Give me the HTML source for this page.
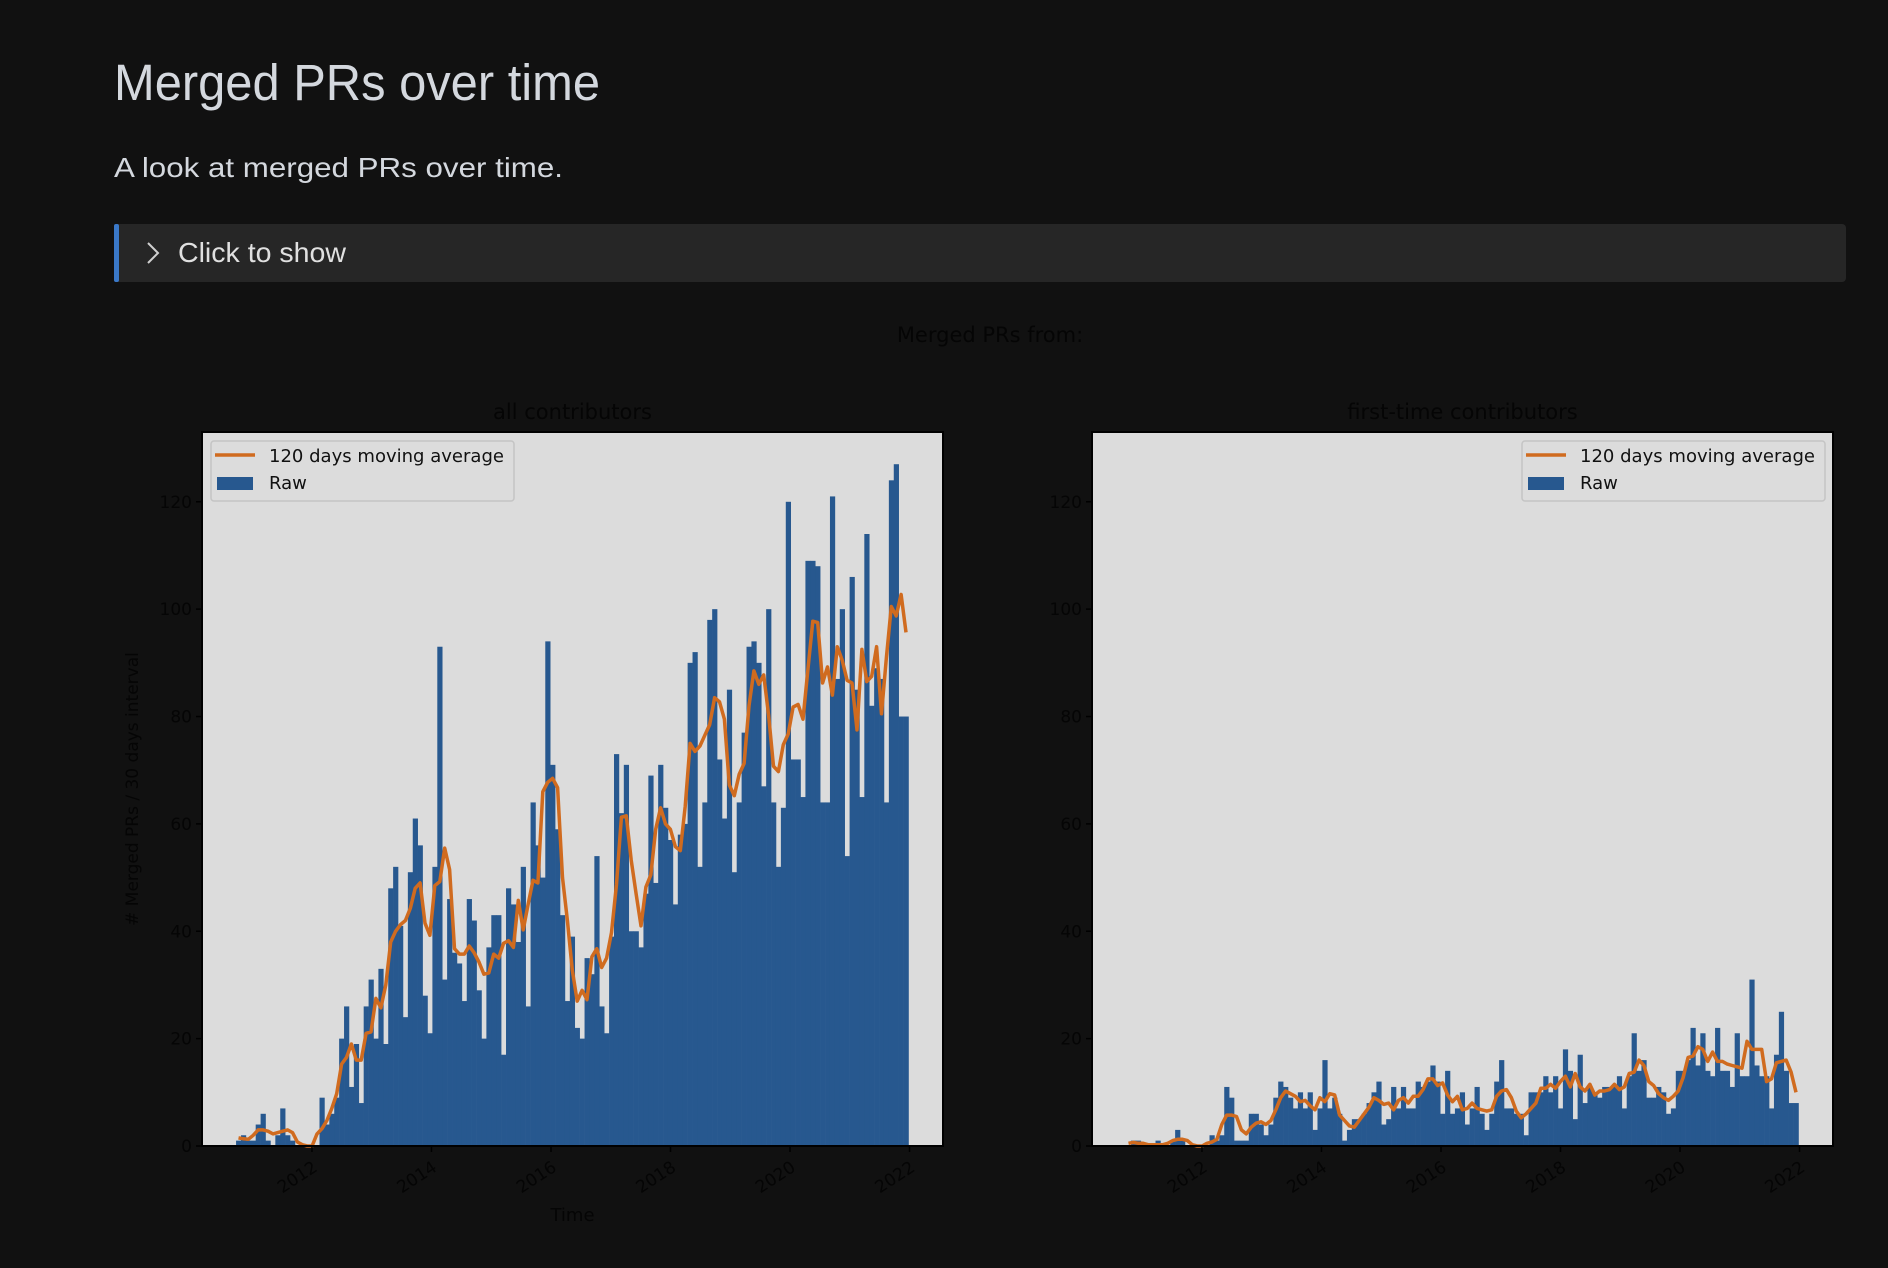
<!DOCTYPE html>
<html><head><meta charset="utf-8"><style>
html,body{margin:0;padding:0;background:#111111;}
svg{display:block;}
</style></head><body>
<svg id="root" width="1888" height="1268" viewBox="0 0 1888 1268" xmlns="http://www.w3.org/2000/svg">
<rect x="0" y="0" width="1888" height="1268" fill="#111111"/>
<text x="114" y="100" font-family="Liberation Sans, sans-serif" font-size="51" fill="#d4d8de" textLength="486" lengthAdjust="spacingAndGlyphs">Merged PRs over time</text>
<text x="114" y="177" font-family="Liberation Sans, sans-serif" font-size="28" fill="#d4d8de" textLength="449" lengthAdjust="spacingAndGlyphs">A look at merged PRs over time.</text>
<g>
<rect x="114" y="224" width="1732" height="58" rx="4" fill="#262626"/>
<rect x="114" y="224" width="5" height="58" rx="2" fill="#3a78c8"/>
<polyline points="148,243 158,253 148,263" fill="none" stroke="#d0d0d0" stroke-width="2"/>
<text x="178" y="262" font-family="Liberation Sans, sans-serif" font-size="28" fill="#e0e0e0" textLength="168" lengthAdjust="spacingAndGlyphs">Click to show</text>
</g>
<text x="990" y="342" text-anchor="middle" font-family="DejaVu Sans, sans-serif" font-size="21" fill="#050505">Merged PRs from:</text>
<g id="chartL"></g>
<g id="chartR"></g>
</svg>
<script>
const allRaw = [1,2,1,1,4,6,1,0,2,7,2,1,0,0,0,0,0,9,4,6,9,20,26,11,19,8,26,31,20,33,19,48,52,41,24,51,61,56,28,21,52,93,31,46,36,34,27,46,42,29,20,37,43,43,17,48,45,38,52,26,64,56,50,94,71,59,43,27,39,22,20,35,32,54,26,21,39,73,62,71,40,40,37,47,69,49,71,63,57,45,58,60,90,92,52,64,98,100,72,61,85,51,64,77,93,94,90,67,100,64,52,63,120,72,72,65,109,109,108,64,64,121,87,100,54,106,85,65,114,82,89,87,64,124,127,80,80];
const firstRaw = [0,1,1,0,0,0,1,0,0,1,3,1,0,0,0,0,0,2,1,2,11,9,1,1,1,6,6,4,2,4,9,12,11,9,7,10,7,10,3,7,16,7,9,6,1,3,5,5,6,8,10,12,4,5,11,7,11,7,7,12,11,12,15,12,6,14,6,7,10,4,7,11,6,3,6,12,16,7,7,6,6,2,10,10,10,13,10,13,7,18,14,5,17,8,11,10,9,11,11,11,13,7,13,21,14,16,9,9,11,10,6,7,14,14,16,22,15,21,14,13,22,14,14,11,21,13,13,31,15,13,13,7,17,25,14,8,8];
const yTicks = [0,20,40,60,80,100,120];
const xTicks = [2012,2014,2016,2018,2020,2022];
const startYear = 2010.73;
const stepYears = 30/365.25;

const NS = "http://www.w3.org/2000/svg";
function mk(tag, attrs, parent){const e=document.createElementNS(NS,tag);for(const k in attrs)e.setAttribute(k,attrs[k]);parent.appendChild(e);return e;}

function drawChart(gId, left, raw, title, legendRight, showYLabel, showXLabel){
  const g=document.getElementById(gId);
  const top=432,bottom=1146,width=741;
  const x0=2010.16,x1=2022.56,yMax=133;
  const xs=t=>left+(t-x0)/(x1-x0)*width;
  const ys=v=>bottom-v/yMax*(bottom-top);
  const bg=mk('rect',{x:left,y:top,width:width,height:bottom-top,fill:'#dcdcdc'},g);
  
  
  const t=mk('text',{x:left+width/2,y:419,'text-anchor':'middle','font-family':'DejaVu Sans, sans-serif','font-size':21,fill:'#050505'},g);
  t.textContent=title;
  
  
  raw.forEach((v,i)=>{
    const a=startYear+i*stepYears;
    const r=mk('rect',{x:xs(a),y:ys(v),width:xs(a+stepYears)-xs(a)+0.3,height:bottom-ys(v),fill:'#27588f'},g);
    
    
  });
  const pts=[];
  for(let i=0;i<raw.length;i++){
    let s=0,c=0;
    for(let j=i-2;j<=i+1;j++){if(j>=0&&j<raw.length){s+=raw[j];c++;}}
    pts.push(xs(startYear+(i+0.5)*stepYears).toFixed(1)+','+ys(s/c).toFixed(1));
  }
  const pl=mk('polyline',{points:pts.join(' '),fill:'none',stroke:'#d06b1f','stroke-width':3.5,'stroke-linejoin':'round'},g);
  
  
  const fr=mk('rect',{x:left,y:top,width:width,height:bottom-top,fill:'none',stroke:'#000','stroke-width':2},g);
  
  
  yTicks.forEach(v=>{
    const l=mk('line',{x1:left-6,x2:left,y1:ys(v),y2:ys(v),stroke:'#000','stroke-width':1.5},g);
    
    
    const tx=mk('text',{x:left-10,y:ys(v)+6,'text-anchor':'end','font-family':'DejaVu Sans, sans-serif','font-size':17,fill:'#050505'},g);
    tx.textContent=v;
    
    
  });
  xTicks.forEach(v=>{
    const X=xs(v);
    const l=mk('line',{x1:X,x2:X,y1:bottom,y2:bottom+6,stroke:'#000','stroke-width':1.5},g);
    
    
    const tx=mk('text',{x:X,y:bottom+26,'text-anchor':'end','font-family':'DejaVu Sans, sans-serif','font-size':17,fill:'#050505',transform:'rotate(-33 '+X+' '+(bottom+14)+')'},g);
    tx.textContent=v;
    
    
  });
  if(showYLabel){
    const yl=mk('text',{x:0,y:0,'text-anchor':'middle','font-family':'DejaVu Sans, sans-serif','font-size':17,fill:'#050505',transform:'translate(138,789) rotate(-90)'},g);
    yl.textContent='# Merged PRs / 30 days interval';
    
    
  }
  if(showXLabel){
    const xl=mk('text',{x:left+width/2,y:1221,'text-anchor':'middle','font-family':'DejaVu Sans, sans-serif','font-size':18,fill:'#050505'},g);
    xl.textContent='Time';
    
    
  }
  const lx=legendRight?left+width-311:left+9;
  const lg=mk('g',{},g);
  
  
  mk('rect',{x:lx,y:441,width:303,height:60,rx:3,fill:'#dcdcdc',stroke:'#c4c4c4','stroke-width':1.5},lg);
  const ll=mk('line',{x1:lx+4,x2:lx+44,y1:455,y2:455,stroke:'#d06b1f','stroke-width':3.5},lg);
  
  
  const lr=mk('rect',{x:lx+6,y:477,width:36,height:13,fill:'#27588f'},lg);
  
  
  const t1=mk('text',{x:lx+58,y:462,'font-family':'DejaVu Sans, sans-serif','font-size':18,fill:'#111',textLength:235,lengthAdjust:'spacingAndGlyphs'},lg);
  t1.textContent='120 days moving average';
  
  
  const t2=mk('text',{x:lx+58,y:489,'font-family':'DejaVu Sans, sans-serif','font-size':18,fill:'#111'},lg);
  t2.textContent='Raw';
  
  
}
drawChart('chartL',202,allRaw,'all contributors',false,true,true);
drawChart('chartR',1092,firstRaw,'first-time contributors',true,false,false);
</script>
</body></html>
